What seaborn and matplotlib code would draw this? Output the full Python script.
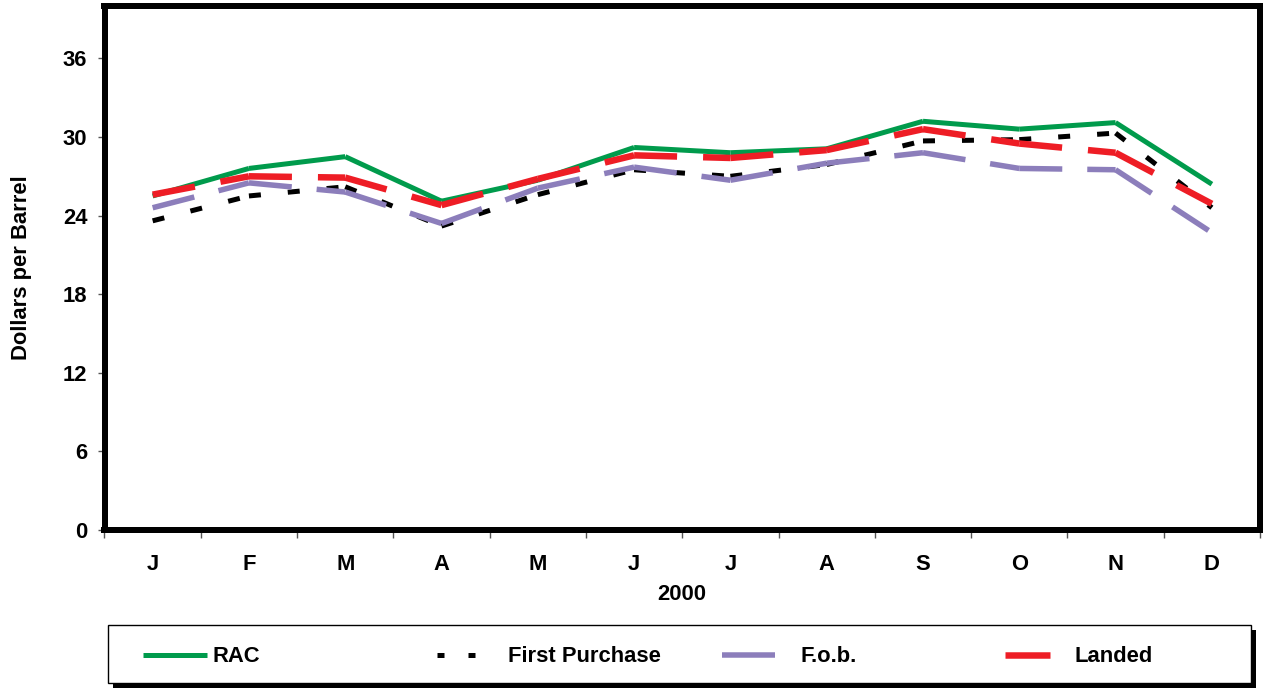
import numpy as np
import pandas as pd
import matplotlib
matplotlib.use("Agg")
import matplotlib.pyplot as plt
from matplotlib.patches import Rectangle
from matplotlib.lines import Line2D
import seaborn as sns

# ---- data ----
months = ["J", "F", "M", "A", "M", "J", "J", "A", "S", "O", "N", "D"]
rac = [25.5, 27.6, 28.5, 25.1, 26.7, 29.2, 28.8, 29.1, 31.2, 30.6, 31.1, 26.4]
first_purchase = [23.6, 25.5, 26.2, 23.2, 25.6, 27.5, 27.0, 27.9, 29.7, 29.8, 30.3, 24.6]
fob = [24.6, 26.5, 25.8, 23.4, 26.1, 27.7, 26.7, 28.0, 28.8, 27.6, 27.5, 22.7]
landed = [25.6, 27.0, 26.9, 24.8, 26.8, 28.6, 28.4, 29.0, 30.6, 29.5, 28.8, 24.9]
year_label = "2000"
y_ticks = [0, 6, 12, 18, 24, 30, 36]

series_names = ["RAC", "First Purchase", "F.o.b.", "Landed"]
series_values = [rac, first_purchase, fob, landed]
colors = ["#009B4C", "#000000", "#8C7EBB", "#EE1D25"]
lws_px = [5.0, 5.0, 5.5, 6.5]
dash_px = [None, (12, 27), (43, 25), (43, 26)]

# ---- style ----
sns.set_theme(style="white")
plt.rcParams["font.family"] = ["Liberation Sans", "DejaVu Sans"]
plt.rcParams["font.weight"] = "bold"
for k in ["text.color", "axes.labelcolor", "xtick.color", "ytick.color"]:
    plt.rcParams[k] = "black"
FS = 15.8

W, H = 1266, 688
fig = plt.figure(figsize=(W / 100, H / 100), dpi=100)
ax = fig.add_axes([104.5 / W, (H - 530) / H, (1260 - 104.5) / W, (530 - 6) / H])

px = 72 / 100  # points per pixel

for name, vals, col, lwp, dp in zip(series_names, series_values, colors, lws_px, dash_px):
    # each month-to-month segment drawn as its own unit (dash pattern restarts per segment)
    rows = []
    for i in range(len(vals) - 1):
        rows.append({"x": i, "y": vals[i], "seg": i})
        rows.append({"x": i + 1, "y": vals[i + 1], "seg": i})
    df = pd.DataFrame(rows)
    kw = dict(color=col, linewidth=lwp * px, solid_capstyle="butt", dash_capstyle="butt")
    if dp is not None:
        kw["linestyle"] = (0, (dp[0] / lwp, dp[1] / lwp))
    sns.lineplot(data=df, x="x", y="y", units="seg", estimator=None, ax=ax,
                 legend=False, **kw)

ax.set_xlim(-0.5, len(months) - 0.5)
ax.set_ylim(0, 40)
ax.set_yticks(y_ticks)
ax.set_yticklabels([str(t) for t in y_ticks], fontsize=FS, fontweight="bold")
ax.set_xticks(np.arange(len(months)))
ax.set_xticklabels(months, fontsize=FS, fontweight="bold")
ax.set_xticks(np.arange(len(months) + 1) - 0.5, minor=True)
ax.tick_params(axis="x", which="major", length=0, pad=17)
ax.tick_params(axis="x", which="minor", length=5.8, width=1, color="#555555",
               direction="out", bottom=True)
ax.tick_params(axis="y", which="major", length=5.4, width=1, color="#555555",
               labelcolor="black", direction="out", left=True, pad=7)

ax.set_xlabel(year_label, fontsize=FS, fontweight="bold", labelpad=7)
ax.set_ylabel("Dollars per Barrel", fontsize=FS, fontweight="bold")
ax.yaxis.set_label_coords(-0.063, 0.5)

for s in ax.spines.values():
    s.set_visible(True)
    s.set_color("black")
    s.set_linewidth(6 * px)
ax.grid(False)

# ---- legend box with shadow ----
lx0, ly0, lx1, ly1 = 108, 625, 1251, 683
fig.patches.append(Rectangle(((lx0 + 5) / W, (H - ly1 - 5) / H), (lx1 - lx0) / W, (ly1 - ly0) / H,
                             transform=fig.transFigure, facecolor="black", edgecolor="none", zorder=0))
fig.patches.append(Rectangle((lx0 / W, (H - ly1) / H), (lx1 - lx0) / W, (ly1 - ly0) / H,
                             transform=fig.transFigure, facecolor="white", edgecolor="black",
                             linewidth=1.0, zorder=1))

# legend entries (one per series, at Excel-like column positions)
leg_x = [143, 437, 722, 1005]
leg_hlen_px = [64, 38, 53, 45]
leg_gap_px = [5, 33, 25, 25]
leg_dash_px = [None, (7, 24), None, None]
leg_yc = 657
em = FS / px  # font size in pixels
for name, col, lwp, ldp, x0, hl, gp in zip(series_names, colors, lws_px, leg_dash_px,
                                            leg_x, leg_hlen_px, leg_gap_px):
    hkw = dict(color=col, linewidth=lwp * px, solid_capstyle="butt", dash_capstyle="butt")
    if ldp is not None:
        hkw["linestyle"] = (0, (ldp[0] / lwp, ldp[1] / lwp))
    h = Line2D([], [], **hkw)
    lg = fig.legend([h], [name], loc="center left", bbox_to_anchor=(x0 / W, (H - leg_yc) / H),
                    frameon=False, borderpad=0, borderaxespad=0,
                    prop={"size": FS, "weight": "bold"},
                    handlelength=hl / em, handletextpad=gp / em)
    lg.set_zorder(5)

fig.savefig("out.png", dpi=100, facecolor="white")
